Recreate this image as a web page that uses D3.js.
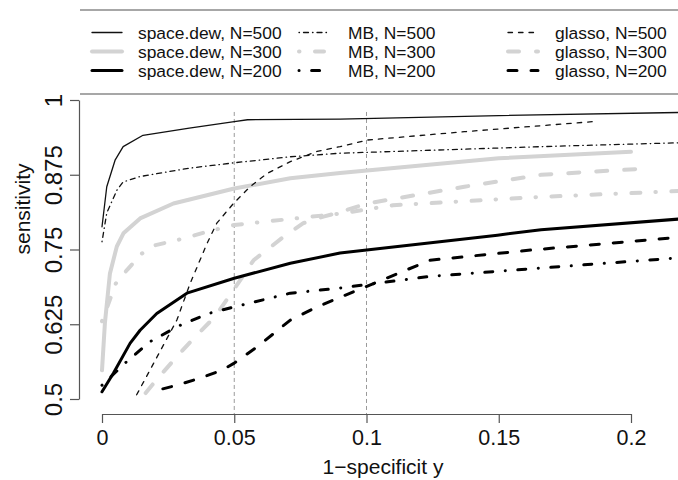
<!DOCTYPE html>
<html>
<head>
<meta charset="utf-8">
<script src="https://cdn.jsdelivr.net/npm/d3@7"></script>
<style>
  body { margin: 0; background: #fff; }
  svg { display: block; font-family: "Liberation Sans", Arial, sans-serif; }
</style>
</head>
<body>
<div id="chart"></div>
<script>
var width = 678, height = 480;

// ROC points (x = 1-specificity, y = sensitivity)
var sd500X = [0, 0.0018, 0.005, 0.008, 0.0155, 0.033, 0.05, 0.055, 0.09, 0.15, 0.23];
var sd500Y = [0.788, 0.855, 0.9, 0.922, 0.941, 0.953, 0.964, 0.967, 0.968, 0.974, 0.98];
var sd300X = [0, 0.0011, 0.003, 0.0056, 0.0081, 0.0144, 0.027, 0.05, 0.0712, 0.09, 0.15, 0.2];
var sd300Y = [0.548, 0.627, 0.71, 0.755, 0.777, 0.802, 0.827, 0.852, 0.869, 0.878, 0.9025, 0.9135];
var sd200X = [0, 0.0043, 0.0106, 0.0144, 0.0207, 0.0321, 0.05, 0.0712, 0.09, 0.1495, 0.166, 0.23];
var sd200Y = [0.512, 0.543, 0.593, 0.615, 0.643, 0.677, 0.702, 0.727, 0.744, 0.774, 0.783, 0.805];

var mb500X = [0, 0.0018, 0.0056, 0.008, 0.0144, 0.033, 0.05, 0.071, 0.09, 0.166, 0.23];
var mb500Y = [0.763, 0.811, 0.849, 0.863, 0.872, 0.886, 0.895, 0.905, 0.911, 0.922, 0.93];
var mb300X = [0, 0.0052, 0.0095, 0.015, 0.02, 0.0295, 0.04, 0.05, 0.09, 0.11, 0.166, 0.23];
var mb300Y = [0.63, 0.693, 0.716, 0.743, 0.757, 0.767, 0.78, 0.791, 0.81, 0.824, 0.838, 0.85];
var mb200X = [0, 0.0087, 0.0182, 0.0289, 0.0403, 0.05, 0.0712, 0.0889, 0.124, 0.166, 0.23];
var mb200Y = [0.523, 0.56, 0.596, 0.622, 0.643, 0.654, 0.677, 0.685, 0.705, 0.719, 0.74];

var gl500X = [0.0131, 0.0283, 0.0333, 0.0397, 0.0434, 0.0497, 0.056, 0.0624, 0.0712, 0.0813, 0.09, 0.1003, 0.137, 0.186];
var gl500Y = [0.507, 0.632, 0.693, 0.76, 0.794, 0.827, 0.855, 0.877, 0.897, 0.914, 0.922, 0.933, 0.947, 0.964];
var gl300X = [0.0165, 0.02, 0.0283, 0.0352, 0.0428, 0.0497, 0.0573, 0.0686, 0.0761, 0.0837, 0.0889, 0.1003, 0.137, 0.166, 0.204];
var gl300Y = [0.51, 0.529, 0.571, 0.604, 0.638, 0.682, 0.732, 0.771, 0.794, 0.805, 0.811, 0.827, 0.855, 0.875, 0.885];
var gl200X = [0.023, 0.0283, 0.0371, 0.0453, 0.05, 0.0586, 0.0712, 0.0813, 0.09, 0.124, 0.162, 0.23];
var gl200Y = [0.517, 0.523, 0.535, 0.548, 0.56, 0.587, 0.632, 0.654, 0.67, 0.732, 0.749, 0.775];

var xTicks = [0, 0.05, 0.1, 0.15, 0.2];
var xTickLabels = ["0", "0.05", "0.1", "0.15", "0.2"];
var yTicks = [0.5, 0.625, 0.75, 0.875, 1];
var yTickLabels = ["0.5", "0.625", "0.75", "0.875", "1"];
var refLines = [0.05, 0.1];

var legendLabels = [
  "space.dew, N=500", "space.dew, N=300", "space.dew, N=200",
  "MB, N=500", "MB, N=300", "MB, N=200",
  "glasso, N=500", "glasso, N=300", "glasso, N=200"
];

// line styles, one per legend entry (same order)
var gray = "#d3d3d3";
var styles = [
  {color: "#111", w: 1.3, dash: null},
  {color: gray,   w: 4,   dash: null},
  {color: "#000", w: 3,   dash: null},
  {color: "#111", w: 1.3, dash: "0.5,4,5,4"},
  {color: gray,   w: 4,   dash: "0.5,15.5,9,15"},
  {color: "#000", w: 3,   dash: "0.1,12.5,8,12.5"},
  {color: "#111", w: 1.3, dash: "4.5,6"},
  {color: gray,   w: 4,   dash: "11,17"},
  {color: "#000", w: 3,   dash: "9,14"}
];
var seriesX = [sd500X, sd300X, sd200X, mb500X, mb300X, mb200X, gl500X, gl300X, gl200X];
var seriesY = [sd500Y, sd300Y, sd200Y, mb500Y, mb300Y, mb200Y, gl500Y, gl300Y, gl200Y];

var svg = d3.select("#chart")
  .append("svg")
  .attr("width", width)
  .attr("height", height);

var x = d3.scaleLinear().domain([0, 0.2]).range([102, 631]);
var y = d3.scaleLinear().domain([0.5, 1]).range([399, 100]);

// vertical reference lines
svg.selectAll(".ref")
  .data(refLines)
  .enter()
  .append("line")
  .attr("x1", function(d) { return x(d) })
  .attr("x2", function(d) { return x(d) })
  .attr("y1", y(0.98))
  .attr("y2", 414)
  .style("stroke", "#9a9a9a")
  .style("stroke-width", 1)
  .style("stroke-dasharray", "4,3")

var line = d3.line()
  .x(function(d) { return x(d[0]) })
  .y(function(d) { return y(d[1]) })

// gray series first, black on top
var order = [1, 4, 7, 0, 3, 6, 2, 5, 8];
order.forEach(function(i) {
  var pts = seriesX[i].map(function(v, j) { return [v, seriesY[i][j]] });
  svg.append("path")
    .datum(pts)
    .attr("d", line)
    .style("fill", "none")
    .style("stroke", styles[i].color)
    .style("stroke-width", styles[i].w)
    .style("stroke-linecap", "round")
    .style("stroke-linejoin", "round")
    .style("stroke-dasharray", styles[i].dash)
})

// axes
var xAxis = svg.append("g")
  .attr("transform", "translate(0,414)")
  .call(d3.axisBottom(x)
    .tickValues(xTicks)
    .tickFormat(function(d, i) { return xTickLabels[i] })
    .tickSize(9)
    .tickSizeOuter(0))
xAxis.selectAll("text")
  .attr("y", 31)
  .attr("dy", 0)
  .style("font-size", "21.5px")
  .style("fill", "#111")

var yAxis = svg.append("g")
  .attr("transform", "translate(79,0)")
  .call(d3.axisLeft(y)
    .tickValues(yTicks)
    .tickFormat(function(d, i) { return yTickLabels[i] })
    .tickSize(9)
    .tickSizeOuter(0))
yAxis.selectAll("text")
  .attr("transform", "rotate(-90)")
  .attr("x", 0)
  .attr("y", -17)
  .attr("dy", 0)
  .style("text-anchor", "middle")
  .style("font-size", "24px")
  .style("fill", "#111")

svg.selectAll(".domain, .tick line")
  .style("stroke", "#555")
  .style("stroke-width", 1.2)

svg.append("text")
  .attr("x", 383)
  .attr("y", 474)
  .style("text-anchor", "middle")
  .style("font-size", "21px")
  .style("fill", "#111")
  .text("1\u2212specificit y")

svg.append("text")
  .attr("transform", "translate(30,209) rotate(-90)")
  .style("text-anchor", "middle")
  .style("font-size", "21px")
  .style("fill", "#111")
  .text("sensitivity")

// legend box (top and bottom edges show)
var legend = svg.append("g")
legend.append("rect")
  .attr("x", 80).attr("y", 10)
  .attr("width", width - 80).attr("height", 84)
  .style("fill", "#fff")
legend.selectAll(".edge")
  .data([10, 94])
  .enter()
  .append("line")
  .attr("x1", 80).attr("x2", width)
  .attr("y1", function(d) { return d }).attr("y2", function(d) { return d })
  .style("stroke", "#8a8a8a")
  .style("stroke-width", 1.5)

var colSample = [92, 299, 508];
var colText = [138, 348, 555];
var rowY = [39, 58, 77];

legendLabels.forEach(function(lab, i) {
  var c = Math.floor(i / 3), r = i % 3;
  legend.append("line")
    .attr("x1", colSample[c]).attr("x2", colSample[c] + 30)
    .attr("y1", rowY[r] - 6.5).attr("y2", rowY[r] - 6.5)
    .style("stroke", styles[i].color)
    .style("stroke-width", styles[i].w)
    .style("stroke-linecap", "round")
    .style("stroke-dasharray", styles[i].dash)
  legend.append("text")
    .attr("x", colText[c])
    .attr("y", rowY[r])
    .style("font-size", "17.4px")
    .style("fill", "#111")
    .text(lab)
})
</script>
</body>
</html>
